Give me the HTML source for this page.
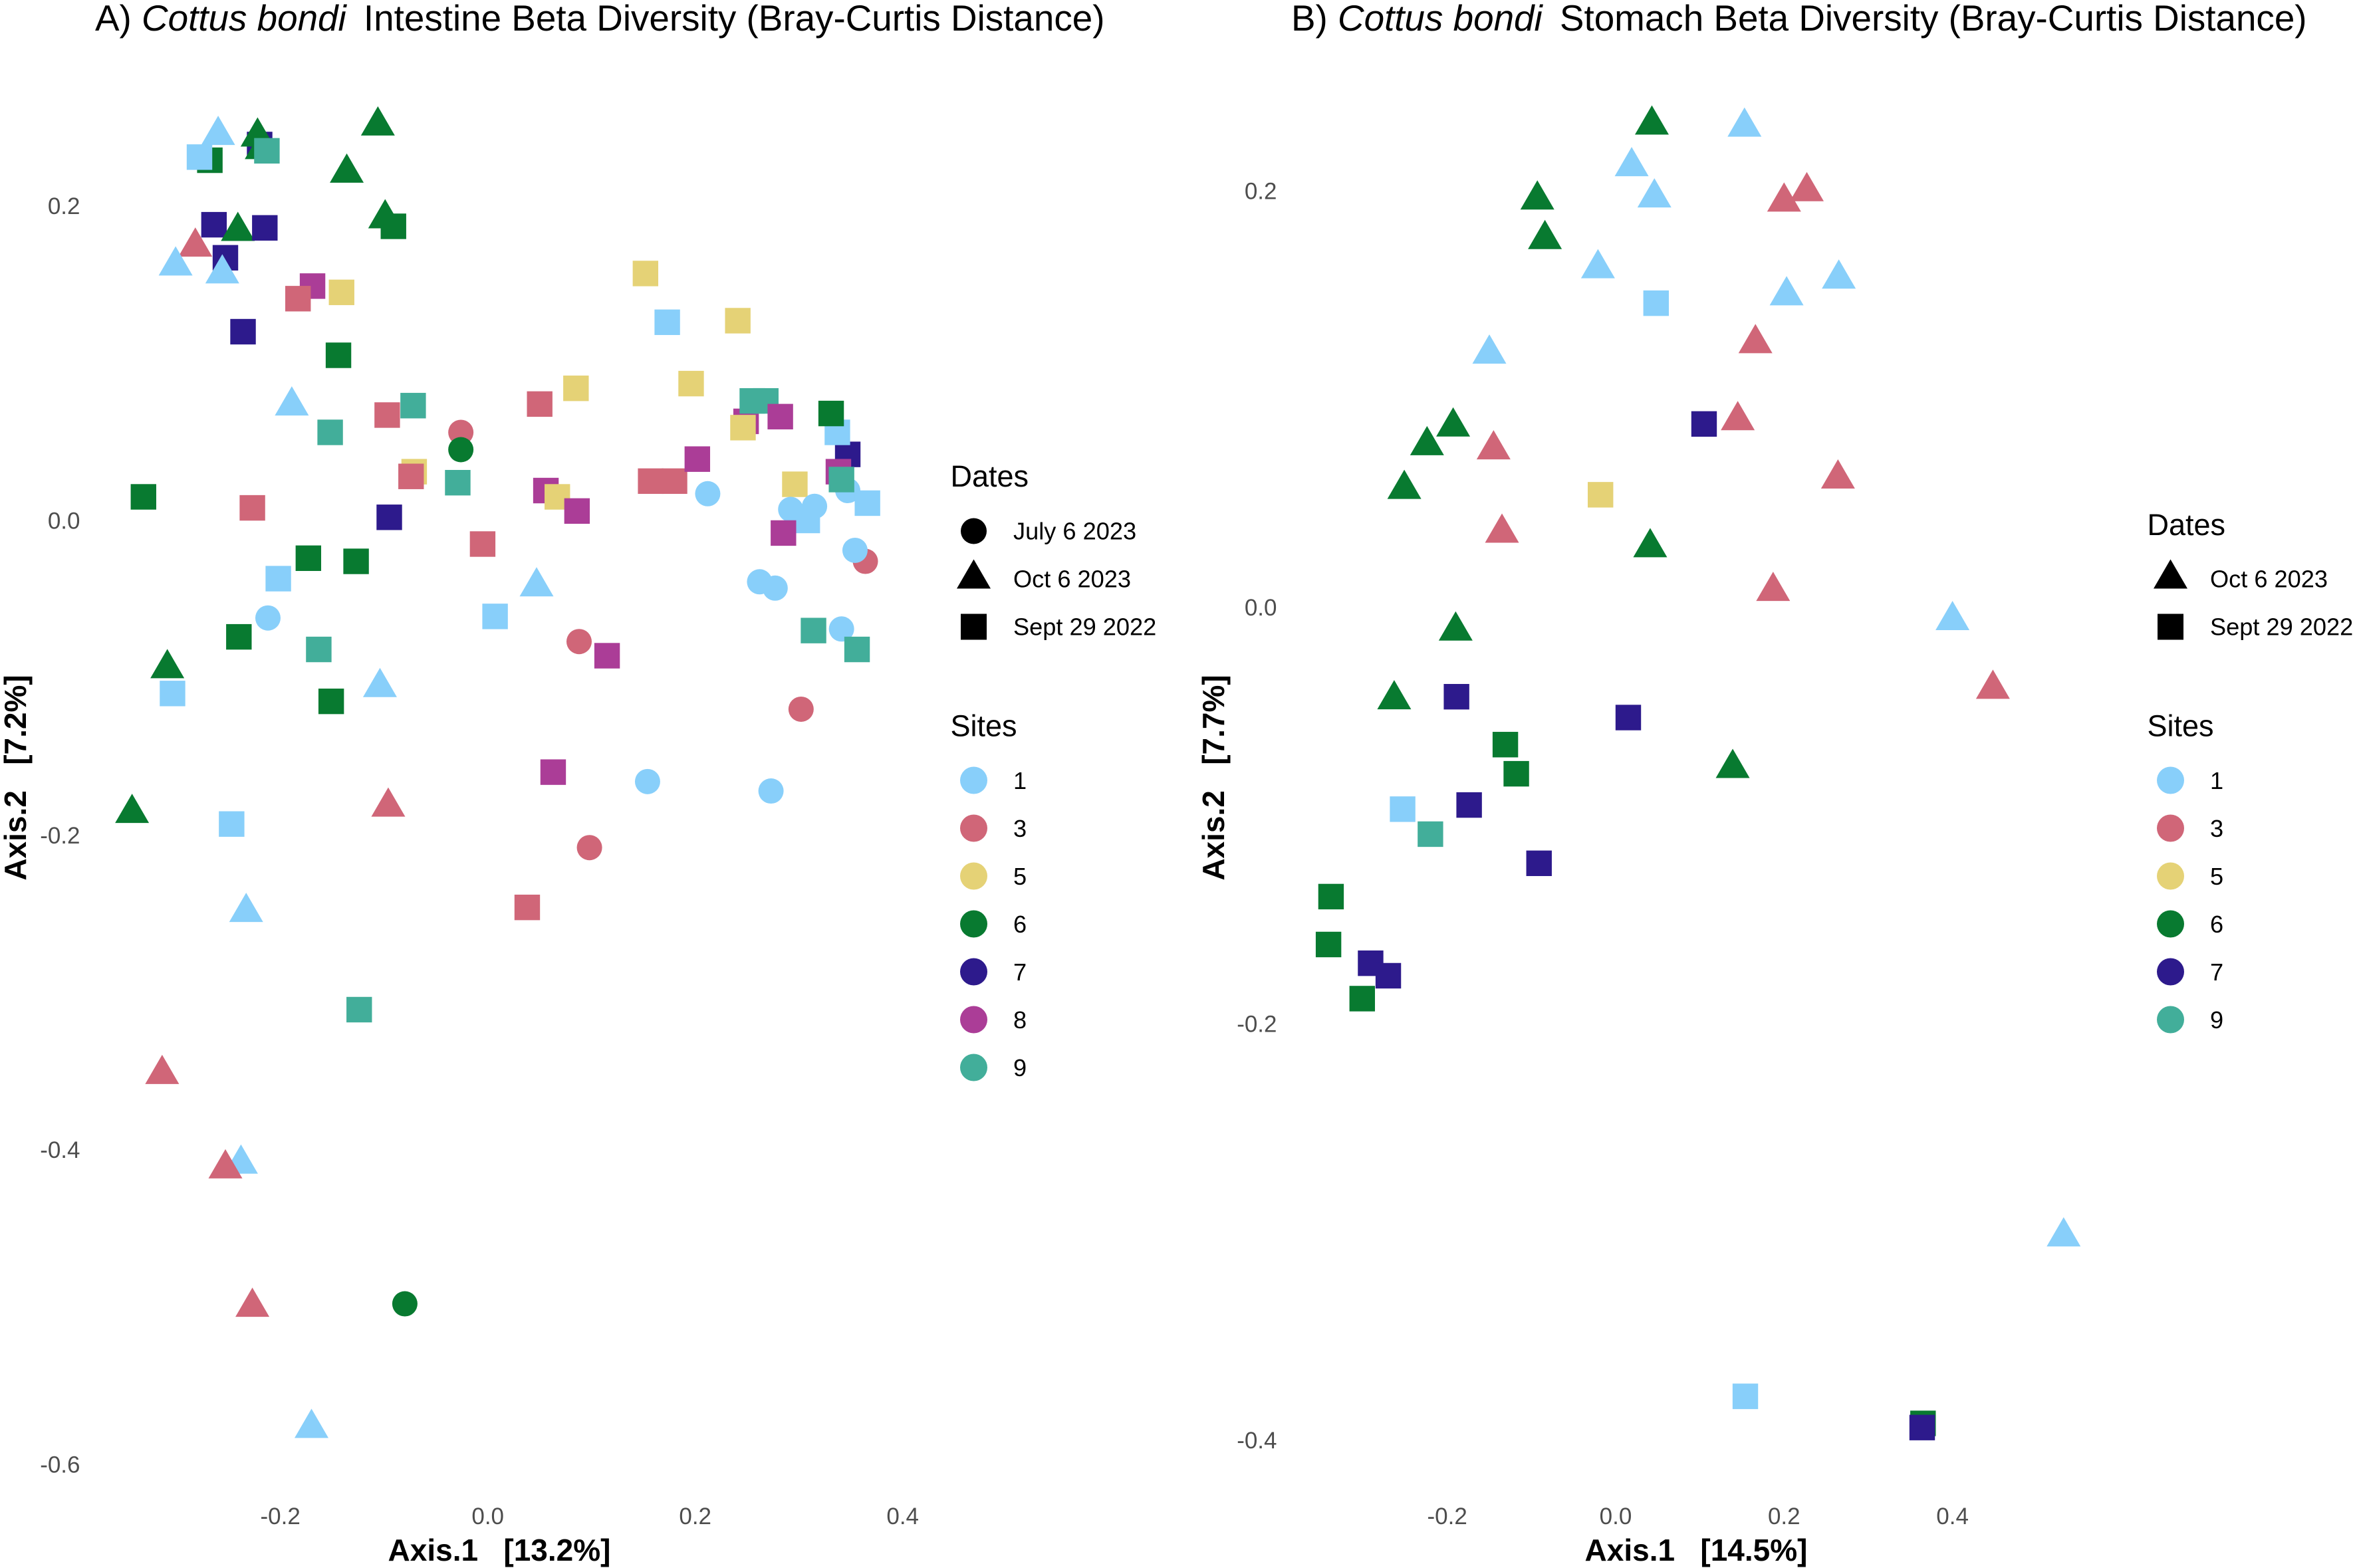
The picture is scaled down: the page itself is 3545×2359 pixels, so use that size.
<!DOCTYPE html>
<html lang="en">
<head>
<meta charset="utf-8">
<title>Cottus bondi Beta Diversity</title>
<style>
html,body{margin:0;padding:0;background:#fff;}
svg{display:block;font-family:"Liberation Sans",Arial,sans-serif;}
.title{font-size:54.8px;fill:#000;}
.ax{font-size:46px;font-weight:bold;fill:#000;}
.tick{font-size:35px;fill:#4d4d4d;}
.lt{font-size:45px;fill:#000;}
.ll{font-size:36.2px;fill:#000;}
</style>
</head>
<body>
<svg id="chart" xmlns="http://www.w3.org/2000/svg" width="3545" height="2359" viewBox="0 0 3545 2359">
<rect x="0" y="0" width="3545" height="2359" fill="#ffffff"/>

<text class="title" x="143" y="46">A) <tspan font-style="italic">Cottus bondi</tspan><tspan dx="11"> Intestine Beta Diversity (Bray-Curtis Distance)</tspan></text>
<text class="title" x="1942" y="46">B) <tspan font-style="italic">Cottus bondi</tspan><tspan dx="11"> Stomach Beta Diversity (Bray-Curtis Distance)</tspan></text>

<text class="ax" x="751" y="2348" text-anchor="middle">Axis.1&#160;&#160;&#160;[13.2%]</text>
<text class="ax" x="2551" y="2348" text-anchor="middle">Axis.1&#160;&#160;&#160;[14.5%]</text>
<text class="ax" transform="translate(39,1170) rotate(-90)" text-anchor="middle">Axis.2&#160;&#160;&#160;[7.2%]</text>
<text class="ax" transform="translate(1841,1170) rotate(-90)" text-anchor="middle">Axis.2&#160;&#160;&#160;[7.7%]</text>

<g id="panel-a-ticks"></g>
<g id="panel-b-ticks"></g>
<g id="panel-a-points"></g>
<g id="panel-b-points"></g>

<g>
  <text class="lt" x="1429.5" y="732">Dates</text>
  <circle cx="1464.5" cy="799" r="19.5" fill="#000"/>
  <polygon points="1464.5,841.5 1490,885.5 1439,885.5" fill="#000"/>
  <rect x="1445" y="923.5" width="39" height="39" fill="#000"/>
  <text class="ll" x="1524" y="811.5">July 6 2023</text>
  <text class="ll" x="1524" y="883.5">Oct 6 2023</text>
  <text class="ll" x="1524" y="955.5">Sept 29 2022</text>
</g>
<g>
  <text class="lt" x="1429.5" y="1107.5">Sites</text>
  <circle cx="1464.5" cy="1174" r="20.5" fill="#88cffa"/>
  <circle cx="1464.5" cy="1246" r="20.5" fill="#d06678"/>
  <circle cx="1464.5" cy="1318" r="20.5" fill="#e5d276"/>
  <circle cx="1464.5" cy="1390" r="20.5" fill="#087a30"/>
  <circle cx="1464.5" cy="1462" r="20.5" fill="#2d1a8c"/>
  <circle cx="1464.5" cy="1534" r="20.5" fill="#ab3d97"/>
  <circle cx="1464.5" cy="1606" r="20.5" fill="#42ae9a"/>
  <text class="ll" x="1524" y="1187">1</text>
  <text class="ll" x="1524" y="1259">3</text>
  <text class="ll" x="1524" y="1331">5</text>
  <text class="ll" x="1524" y="1403">6</text>
  <text class="ll" x="1524" y="1475">7</text>
  <text class="ll" x="1524" y="1547">8</text>
  <text class="ll" x="1524" y="1619">9</text>
</g>

<g>
  <text class="lt" x="3229.5" y="805">Dates</text>
  <polygon points="3264.5,841.5 3290,885.5 3239,885.5" fill="#000"/>
  <rect x="3245" y="923.5" width="39" height="39" fill="#000"/>
  <text class="ll" x="3324" y="883.5">Oct 6 2023</text>
  <text class="ll" x="3324" y="955.5">Sept 29 2022</text>
</g>
<g>
  <text class="lt" x="3229.5" y="1107.5">Sites</text>
  <circle cx="3264.5" cy="1174" r="20.5" fill="#88cffa"/>
  <circle cx="3264.5" cy="1246" r="20.5" fill="#d06678"/>
  <circle cx="3264.5" cy="1318" r="20.5" fill="#e5d276"/>
  <circle cx="3264.5" cy="1390" r="20.5" fill="#087a30"/>
  <circle cx="3264.5" cy="1462" r="20.5" fill="#2d1a8c"/>
  <circle cx="3264.5" cy="1534" r="20.5" fill="#42ae9a"/>
  <text class="ll" x="3324" y="1187">1</text>
  <text class="ll" x="3324" y="1259">3</text>
  <text class="ll" x="3324" y="1331">5</text>
  <text class="ll" x="3324" y="1403">6</text>
  <text class="ll" x="3324" y="1475">7</text>
  <text class="ll" x="3324" y="1547">9</text>
</g>
</svg>

<script>
const panelAXTicks = ['-0.2', '0.0', '0.2', '0.4'];
const panelAYTicks = ['0.2', '0.0', '-0.2', '-0.4', '-0.6'];
const panelBXTicks = ['-0.2', '0.0', '0.2', '0.4'];
const panelBYTicks = ['0.2', '0.0', '-0.2', '-0.4'];

const panelAAxis1 = [
 -0.268,-0.278,-0.260,-0.220,-0.218,-0.222,-0.213,-0.106,-0.136,-0.099,
 -0.091,-0.282,-0.264,-0.241,-0.215,-0.253,-0.301,-0.256,-0.169,-0.183,
 -0.141,-0.236,-0.144,-0.189,-0.072,-0.097,-0.152,-0.071,-0.074,-0.029,
 -0.026,-0.026,-0.332,-0.227,-0.095,0.056,0.067,0.086,0.050,0.085,
 0.152,0.173,0.241,0.196,0.249,0.255,0.268,0.246,0.282,0.157,
 0.180,0.202,0.212,0.296,0.308,0.292,0.315,0.285,0.347,0.337,
 0.331,0.338,0.347,0.341,0.366,0.364,0.354,0.262,0.277,0.314,
 0.341,0.356,0.088,0.115,0.047,-0.005,0.007,0.302,0.154,0.273,
 0.063,0.098,0.038,-0.202,-0.212,-0.173,-0.127,-0.240,-0.163,-0.151,
 -0.104,-0.309,-0.304,-0.343,-0.096,-0.247,-0.233,-0.124,-0.314,-0.238,
 -0.253,-0.227,-0.080,-0.170
];
const panelAAxis2 = [
 0.229,0.231,0.248,0.239,0.239,0.247,0.235,0.254,0.224,0.195,
 0.187,0.177,0.188,0.187,0.186,0.167,0.165,0.160,0.149,0.141,
 0.145,0.120,0.105,0.076,0.073,0.067,0.056,0.031,0.028,0.024,
 0.056,0.045,0.015,0.008,0.002,0.019,0.015,0.006,0.074,0.084,
 0.157,0.126,0.127,0.087,0.063,0.076,0.076,0.059,0.066,0.025,
 0.025,0.039,0.017,0.023,0.000,0.007,0.009,-0.008,0.042,0.056,
 0.068,0.031,0.019,0.026,0.011,-0.026,-0.019,-0.039,-0.043,-0.070,
 -0.069,-0.082,-0.077,-0.086,-0.039,-0.015,-0.061,-0.120,-0.166,-0.172,
 -0.160,-0.208,-0.246,-0.037,-0.062,-0.024,-0.026,-0.074,-0.082,-0.115,
 -0.103,-0.091,-0.110,-0.183,-0.179,-0.193,-0.246,-0.311,-0.349,-0.406,
 -0.409,-0.497,-0.498,-0.574
];
const panelASite = [
 6,1,1,7,6,6,9,6,6,6,
 6,3,7,6,7,7,1,1,8,3,
 5,7,6,1,9,3,9,5,3,9,
 3,6,6,3,7,8,5,8,3,5,
 5,1,5,5,8,9,9,5,8,3,
 3,8,1,5,1,1,1,8,7,1,
 6,8,1,9,1,3,1,1,1,9,
 1,9,3,8,1,3,1,3,1,1,
 8,3,3,1,1,6,6,6,9,6,
 1,6,1,6,3,1,1,9,3,1,
 3,3,6,1
];
const panelADate = [
 'S','S','O','S','O','O','S','O','O','O',
 'S','O','S','O','S','S','O','O','S','S',
 'S','S','S','O','S','S','S','S','S','S',
 'J','J','S','S','S','S','S','S','S','S',
 'S','S','S','S','S','S','S','S','S','S',
 'S','S','J','S','S','J','J','S','S','S',
 'S','S','J','S','S','J','J','J','J','S',
 'J','S','J','S','O','S','S','J','J','J',
 'S','J','S','S','J','S','S','S','S','S',
 'O','O','S','O','O','S','O','S','O','O',
 'O','O','J','O'
];

const panelBAxis1 = [
 0.153,0.019,0.046,-0.021,0.265,0.203,-0.150,0.400,0.532,
 0.227,0.200,0.166,0.145,-0.145,-0.135,0.264,0.187,0.448,
 0.043,-0.093,-0.084,-0.193,-0.224,-0.251,0.041,-0.190,-0.263,0.139,
 0.048,0.105,-0.018,
 -0.189,0.015,-0.131,-0.118,-0.174,-0.253,-0.220,-0.091,
 -0.338,-0.341,-0.291,-0.270,-0.301,
 0.365,0.364,0.154
];
const panelBAxis2 = [
 0.233,0.214,0.199,0.165,0.160,0.152,0.124,-0.004,-0.300,
 0.202,0.197,0.129,0.092,0.078,0.038,0.064,0.010,-0.037,
 0.234,0.198,0.179,0.089,0.080,0.059,0.031,-0.009,-0.042,-0.075,
 0.146,0.088,0.054,
 -0.043,-0.053,-0.066,-0.080,-0.095,-0.097,-0.109,-0.123,
 -0.139,-0.162,-0.171,-0.177,-0.188,
 -0.392,-0.394,-0.379
];
const panelBSite = [
 1,1,1,1,1,1,1,1,1,
 3,3,3,3,3,3,3,3,3,
 6,6,6,6,6,6,6,6,6,6,
 1,7,5,
 7,7,6,6,7,1,9,7,
 6,6,7,7,6,
 6,7,1
];
const panelBDate = [
 'O','O','O','O','O','O','O','O','O',
 'O','O','O','O','O','O','O','O','O',
 'O','O','O','O','O','O','O','O','O','O',
 'S','S','S',
 'S','S','S','S','S','S','S','S',
 'S','S','S','S','S',
 'S','S','S'
];

const NS = 'http://www.w3.org/2000/svg';
const siteColor = {1:'#88cffa',3:'#d06678',5:'#e5d276',6:'#087a30',7:'#2d1a8c',8:'#ab3d97',9:'#42ae9a'};
const dateName = {J:'july',O:'oct',S:'sept'};

function xA(v){ return 733.7 + v * 1560; }
function yA(v){ return 783 - v * 2366.5; }
function xB(v){ return 2430 + v * 1266.5; }
function yB(v){ return 913.5 - v * 3132.5; }

function drawPoint(parent, panel, px, py, site, date){
  let el;
  if (date === 'J') {
    el = document.createElementNS(NS, 'circle');
    el.setAttribute('cx', px);
    el.setAttribute('cy', py);
    el.setAttribute('r', 19);
  } else if (date === 'O') {
    el = document.createElementNS(NS, 'polygon');
    el.setAttribute('points', px + ',' + (py - 22) + ' ' + (px + 25.5) + ',' + (py + 22) + ' ' + (px - 25.5) + ',' + (py + 22));
  } else {
    el = document.createElementNS(NS, 'rect');
    el.setAttribute('x', px - 19.2);
    el.setAttribute('y', py - 19.2);
    el.setAttribute('width', 38.4);
    el.setAttribute('height', 38.4);
  }
  el.setAttribute('fill', siteColor[site]);
  
  
  parent.appendChild(el);
}

function drawPanel(groupId, panel, xs, ys, sitesArr, datesArr, xf, yf){
  const g = document.getElementById(groupId);
  for (let i = 0; i < xs.length; i++) {
    drawPoint(g, panel, xf(xs[i]), yf(ys[i]), sitesArr[i], datesArr[i]);
  }
}

function drawTicks(groupId, panel, xLabels, yLabels, xf, yf, yRight){
  const g = document.getElementById(groupId);
  xLabels.forEach(function(lab){
    const t = document.createElementNS(NS, 'text');
    t.setAttribute('class', 'tick');
    t.setAttribute('x', xf(parseFloat(lab)));
    t.setAttribute('y', 2293);
    t.setAttribute('text-anchor', 'middle');
    
    
    t.textContent = lab;
    g.appendChild(t);
  });
  yLabels.forEach(function(lab){
    const t = document.createElementNS(NS, 'text');
    t.setAttribute('class', 'tick');
    t.setAttribute('x', yRight);
    t.setAttribute('y', yf(parseFloat(lab)) + 12.5);
    t.setAttribute('text-anchor', 'end');
    
    
    t.textContent = lab;
    g.appendChild(t);
  });
}

drawTicks('panel-a-ticks', 'panel-a', panelAXTicks, panelAYTicks, xA, yA, 120.5);
drawTicks('panel-b-ticks', 'panel-b', panelBXTicks, panelBYTicks, xB, yB, 1920.5);
drawPanel('panel-a-points', 'panel-a', panelAAxis1, panelAAxis2, panelASite, panelADate, xA, yA);
drawPanel('panel-b-points', 'panel-b', panelBAxis1, panelBAxis2, panelBSite, panelBDate, xB, yB);
</script>
</body>
</html>
